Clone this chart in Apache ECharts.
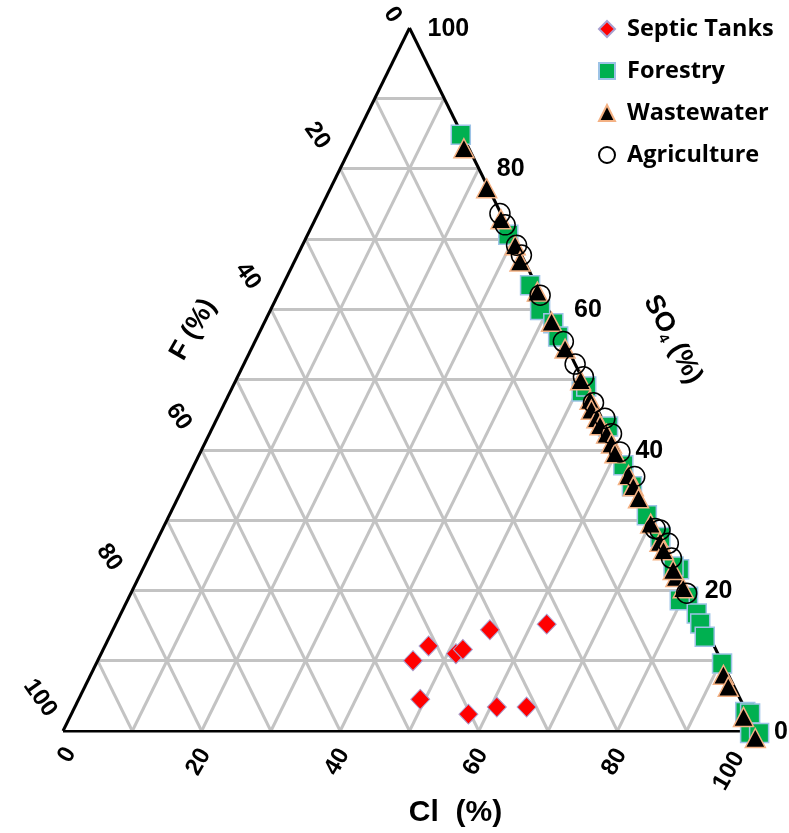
<!DOCTYPE html>
<html>
<head>
<meta charset="utf-8">
<script src="https://cdn.jsdelivr.net/npm/echarts@6/dist/echarts.min.js"></script>
<style>
  html, body { margin: 0; padding: 0; background: #ffffff; }
  #chart { width: 789px; height: 833px; }
</style>
</head>
<body>
<div id="chart"></div>
<script>
// Ion composition of each sample group, in percent of Cl + F + SO4.
const septicCl  = [46.7, 45.5, 51.2, 51.9, 54.4, 62.2, 49.3, 57.3, 60.9, 65.2];
const septicF   = [41.2, 44.5, 37.8, 36.5, 31.2, 22.6, 46.2, 40.3, 35.7, 31.4];
const septicSO4 = [12.1, 10.0, 11.0, 11.6, 14.4, 15.2,  4.5,  2.4,  3.4,  3.4];

const forestryF   = [0.2, 0.45, 0.9, 1.2, 0.25, 0.5, 1.0, 0.0, -0.3, 0.25, 0.5, 0.4, 0.0, -0.4, 0.2, 0.25, 1.7, 0.2, 0.4, 0.7, 0.1, 0.2, -0.4, 1.0, -0.3];
const forestrySO4 = [84.8, 70.6, 63.4, 59.9, 58.0, 56.1, 48.3, 49.0, 43.3, 37.8, 34.8, 30.7, 27.6, 23.0, 23.4, 19.1, 18.6, 16.7, 15.3, 13.4, 9.6, 2.7, 2.5, -0.3, -0.3];

const wastewaterF   = [0.7, 0.26, 0.4, 0.2, 0.65, 0.3, 0.4, 0.35, 0.35, 0.4, 0.9, 0.7, 0.75, 0.4, 0.4, 0.6, 0.2, 0.3, 0.4, 0.45, 0.4, 0.5, 0.6, 0.5, 0.35, 0.7, 0.85, 0.8, 0.6];
const wastewaterSO4 = [82.9, 77.2, 72.8, 69.1, 66.8, 62.5, 58.2, 54.4, 49.9, 47.1, 45.7, 44.5, 43.5, 42.3, 40.9, 39.5, 36.4, 34.8, 33.1, 29.5, 26.9, 25.7, 21.9, 22.9, 20.3, 8.0, 6.3, 2.0, -1.0];

const agricultureF   = [0.15, 0.2, 0.0, 0.0, 0.15, 0.1, 0.0, -0.3, 0.1, -0.45, -0.3, -0.2, -0.6, 0.15, -0.45, -0.7, -0.1, 0.2];
const agricultureSO4 = [73.6, 72.0, 69.1, 67.7, 62.0, 55.4, 52.2, 50.4, 46.7, 44.5, 42.3, 39.7, 36.2, 28.8, 28.6, 26.7, 24.6, 19.6];

const tickValues = [0, 20, 40, 60, 80, 100];

// Ternary -> cartesian: x = Cl + SO4/2, y = SO4 (F fills the rest).
function tern(cl, so4) { return [cl + so4 / 2, so4]; }
function fromFSO4(f, so4) { return tern(100 - f - so4, so4); }

const septicData = septicCl.map((c, i) => tern(c, septicSO4[i]));
const forestryData = forestryF.map((f, i) => fromFSO4(f, forestrySO4[i]));
const wastewaterData = wastewaterF.map((f, i) => fromFSO4(f, wastewaterSO4[i]));
const agricultureData = agricultureF.map((f, i) => fromFSO4(f, agricultureSO4[i]));

// Grid lines every 10 % for each component
const gridSegs = [];
for (let k = 10; k < 100; k += 10) {
  gridSegs.push({ coords: [tern(0, k), tern(100 - k, k)] });       // SO4 = k
  gridSegs.push({ coords: [tern(k, 0), tern(k, 100 - k)] });       // Cl = k
  gridSegs.push({ coords: [tern(0, 100 - k), tern(100 - k, 0)] }); // F = k
}
const edgeSegs = [
  { coords: [tern(0, 0), tern(100, 0)] },
  { coords: [tern(100, 0), tern(0, 100)] },
  { coords: [tern(0, 100), tern(0, 0)] }
];

const numFont = '"Liberation Sans", Arial, sans-serif';
const deg = Math.PI / 180;

const chart = echarts.init(document.getElementById('chart'), null, { renderer: 'canvas' });
chart.setOption({
  backgroundColor: '#ffffff',
  animation: false,
  grid: { left: 63, right: 33, top: 28, bottom: 102 },
  xAxis: { type: 'value', min: 0, max: 100, show: false },
  yAxis: { type: 'value', min: 0, max: 100, show: false },
  legend: {
    orient: 'vertical', left: 598, top: 17, padding: 0,
    itemWidth: 16, itemHeight: 16, itemGap: 18,
    data: ['Septic Tanks', 'Forestry', 'Wastewater', 'Agriculture'],
    textStyle: { color: '#000', fontWeight: 'bold', fontSize: 23.5, lineHeight: 24,
                 fontFamily: '"Open Sans", Lato, sans-serif', padding: [0, 0, 0, 7] }
  },
  series: [
    { type: 'lines', coordinateSystem: 'cartesian2d', silent: true, z: 1, data: gridSegs,
      lineStyle: { color: '#c3c3c3', width: 3, opacity: 1 } },
    { type: 'lines', coordinateSystem: 'cartesian2d', silent: true, z: 2, data: edgeSegs,
      lineStyle: { color: '#000000', width: 3, opacity: 1 } },
    { name: 'Forestry', type: 'scatter', data: forestryData, symbol: 'rect', symbolSize: 19, clip: false, z: 10,
      itemStyle: { color: '#00b050', borderColor: '#9dc3e6', borderWidth: 1.5, opacity: 1 } },
    { name: 'Wastewater', type: 'scatter', data: wastewaterData, symbol: 'triangle', symbolSize: [20, 19], clip: false, z: 11,
      itemStyle: { color: '#000000', borderColor: '#f4b183', borderWidth: 1.5, opacity: 1 } },
    { name: 'Agriculture', type: 'scatter', data: agricultureData, symbol: 'circle', symbolSize: 20, clip: false, z: 12,
      itemStyle: { color: 'rgba(0,0,0,0)', borderColor: '#000000', borderWidth: 1.5, opacity: 1 } },
    { name: 'Septic Tanks', type: 'scatter', data: septicData, symbol: 'diamond', symbolSize: [19, 20], clip: false, z: 13,
      itemStyle: { color: '#ff0000', borderColor: '#a9a0d0', borderWidth: 1, opacity: 1 } }
  ]
});

// Edge tick labels and axis titles, placed from the axis scales
function px(pt) { return chart.convertToPixel({ gridIndex: 0 }, pt); }
function txt(id, p, off, str, size, rot, align) {
  return {
    type: 'text', id: id, x: p[0] + off[0], y: p[1] + off[1], rotation: rot * deg, z: 20,
    style: { text: str, fill: '#000', font: 'bold ' + size + 'px ' + numFont,
             align: align || 'center', verticalAlign: 'middle' }
  };
}
const labels = [];
tickValues.forEach((v, i) => {
  // F along the left edge
  labels.push(txt('f' + v, px(tern(0, 100 - v)), i === 0 ? [-17, -13] : [-23, -33], String(v), 24, -55));
  // Cl along the base
  labels.push(txt('c' + v, px(tern(v, 0)), i === 0 ? [4, 24] : (i === 5 ? [-27, 40] : [-3, 31]), String(v), 24, 60));
  // SO4 along the right edge
  labels.push(txt('s' + v, px(tern(100 - v, v)), v === 60 ? [26, 1] : [18, 1], String(v), 25, 0, 'left'));
});
labels.push(txt('clTitle', px(tern(50, 0)), [46, 82], 'Cl  (%)', 30, 0));
labels.push(txt('fTitle', px(tern(0, 50)), [-43, -50], 'F (%)', 27, 60));
const so4Anchor = px(tern(50, 50));
labels.push({
  type: 'text', id: 'so4Title', x: so4Anchor[0] + 90, y: so4Anchor[1] - 40, rotation: -62 * deg, z: 20,
  style: {
    text: '{a|SO}{b|4}{a| (%)}', align: 'center', verticalAlign: 'middle',
    rich: {
      a: { fill: '#000', fontWeight: 'bold', fontSize: 27, fontFamily: numFont, lineHeight: 30 },
      b: { fill: '#000', fontWeight: 'bold', fontSize: 14, fontFamily: numFont, lineHeight: 14, verticalAlign: 'bottom' }
    }
  }
});
chart.setOption({ graphic: labels });
</script>
</body>
</html>
